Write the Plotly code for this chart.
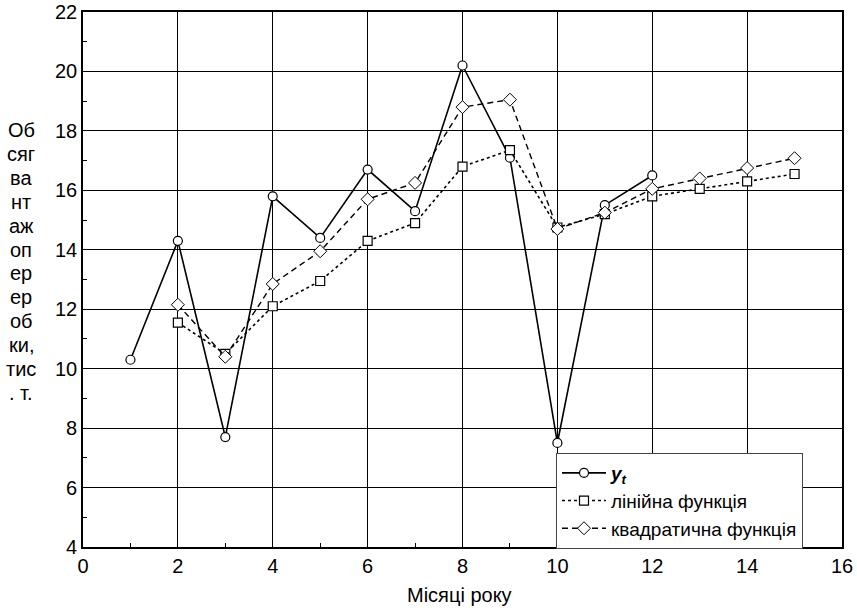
import plotly.graph_objects as go

months_y = [1, 2, 3, 4, 5, 6, 7, 8, 9, 10, 11, 12]
y_actual = [10.3, 14.3, 7.7, 15.8, 14.4, 16.7, 15.3, 20.2, 17.1, 7.5, 15.5, 16.5]

months_f = [2, 3, 4, 5, 6, 7, 8, 9, 10, 11, 12, 13, 14, 15]
y_linear = [11.55, 10.5, 12.1, 12.95, 14.3, 14.9, 16.8, 17.35, 14.75, 15.2, 15.8, 16.05, 16.3, 16.55]
y_quad = [12.15, 10.4, 12.85, 13.95, 15.7, 16.25, 18.8, 19.05, 14.7, 15.25, 16.05, 16.4, 16.75, 17.08]

names = ["<b><i>y<sub>t</sub></i></b>", "лінійна функція", "квадратична функція"]
x_title = "Місяці року"
y_title_lines = ["Об", "сяг", "ва", "нт", "аж", "оп", "ер", "ер", "об", "ки,", "тис", ". т."]

FONT = "Liberation Sans, Arial, sans-serif"
FS = 20

W, H = 857, 611
ML, MR, MT, MB = 83, 15, 12, 64
plot_w = W - ML - MR
plot_h = H - MT - MB

fig = go.Figure()
fig.add_trace(go.Scatter(
    x=months_y, y=y_actual, name=names[0], mode="lines+markers",
    line=dict(color="black", width=1.6, dash="solid"),
    marker=dict(symbol="circle", size=9, color="white", line=dict(color="black", width=1.2)),
))
fig.add_trace(go.Scatter(
    x=months_f, y=y_linear, name=names[1], mode="lines+markers",
    line=dict(color="black", width=1.6, dash="dot"),
    marker=dict(symbol="square", size=9, color="white", line=dict(color="black", width=1.2)),
))
fig.add_trace(go.Scatter(
    x=months_f, y=y_quad, name=names[2], mode="lines+markers",
    line=dict(color="black", width=1.4, dash="6px,4px"),
    marker=dict(symbol="diamond", size=10, color="white", line=dict(color="black", width=1.0)),
))

axis_common = dict(
    showgrid=True, gridcolor="black", gridwidth=1.4,
    showline=True, linecolor="black", linewidth=1.6, mirror=True,
    ticks="", zeroline=False, automargin=False,
    tickfont=dict(family=FONT, size=FS, color="black"),
    minor=dict(ticks="inside", ticklen=4, tickcolor="black", tickwidth=1, dtick=1, showgrid=False),
)

fig.update_layout(
    width=W, height=H,
    margin=dict(l=ML, r=MR, t=MT, b=MB, autoexpand=False),
    paper_bgcolor="white", plot_bgcolor="white",
    font=dict(family=FONT, size=FS, color="black"),
    xaxis=dict(range=[0, 16], dtick=2, tick0=0, **axis_common),
    yaxis=dict(range=[4, 22], dtick=2, tick0=4, **axis_common),
    legend=dict(x=(556 - ML) / plot_w, y=(MT + plot_h - 453) / plot_h, xanchor="left", yanchor="top",
                bgcolor="white", bordercolor="#444", borderwidth=1,
                font=dict(family=FONT, size=19, color="black"),
                tracegroupgap=0, itemwidth=44,
                entrywidth=262, entrywidthmode="pixels"),
    showlegend=True,
)

# x-axis title
fig.add_annotation(
    text=x_title, xref="paper", yref="paper",
    x=(459 - ML) / plot_w, y=(MT + plot_h - 595) / plot_h,
    xanchor="center", yanchor="middle", showarrow=False,
    font=dict(family=FONT, size=FS, color="black"),
)

# y-axis title lines (horizontal text stacked vertically)
top_px, step_px = 130, 23.9
for i, t in enumerate(y_title_lines):
    py = top_px + i * step_px
    fig.add_annotation(
        text=t, xref="paper", yref="paper",
        x=(21 - ML) / plot_w, y=(MT + plot_h - py) / plot_h,
        xanchor="center", yanchor="middle", showarrow=False,
        font=dict(family=FONT, size=FS, color="black"),
    )

fig.write_html("out.html")
